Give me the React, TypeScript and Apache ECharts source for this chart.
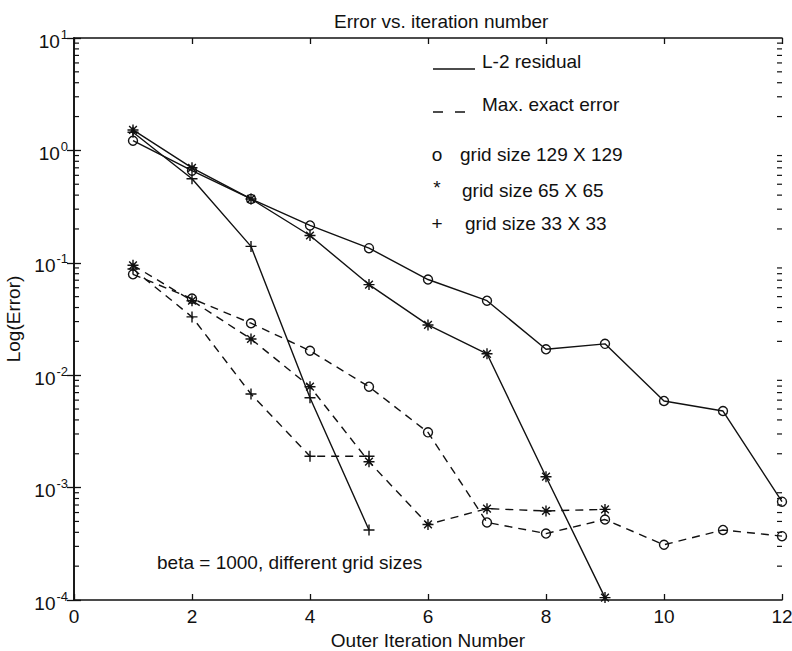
import React, { useEffect, useRef } from "react";
import * as echarts from "echarts";

// ---- data ----
const iterations = [1, 2, 3, 4, 5, 6, 7, 8, 9, 10, 11, 12];

const residual129 = [1.22, 0.66, 0.37, 0.215, 0.135, 0.071, 0.046, 0.017, 0.019, 0.0059, 0.0048, 0.00075];
const residual65 = [1.52, 0.7, 0.37, 0.175, 0.064, 0.028, 0.0155, 0.00125, 0.000105];
const residual33 = [1.45, 0.56, 0.14, 0.0063, 0.00042];

const exact129 = [0.079, 0.048, 0.029, 0.0165, 0.0079, 0.0031, 0.00049, 0.00039, 0.00052, 0.00031, 0.00042, 0.00037];
const exact65 = [0.095, 0.046, 0.021, 0.0079, 0.0017, 0.00047, 0.00065, 0.00062, 0.00064];
const exact33 = [0.088, 0.033, 0.0068, 0.0019, 0.0019];

const xTicks = [0, 2, 4, 6, 8, 10, 12];
const yDecades = [1e-4, 1e-3, 1e-2, 1e-1, 1, 10];

const titleText = "Error vs. iteration number";
const xName = "Outer Iteration Number";
const yName = "Log(Error)";
const legendLines = ["L-2 residual", "Max. exact error"];
const legendMarkers = ["o", "*", "+"];
const legendGrids = ["grid size 129 X 129", "grid size 65 X 65", "grid size 33 X 33"];
const noteText = "beta = 1000, different grid sizes";

// minor tick positions of the log axis (2..9 x 10^k)
const minorTicks: number[] = [];
for (let e = -4; e < 1; e++) for (let m = 2; m <= 9; m++) minorTicks.push(m * Math.pow(10, e));

const FONT = "Liberation Sans";
const INK = "#111";
const FS = 19;

const ASTERISK = "path://M5,0L5,10M0,5L10,5M1.5,1.5L8.5,8.5M1.5,8.5L8.5,1.5";
const PLUS = "path://M5,0L5,10M0,5L10,5";

function pairs(vals: number[]) {
  return vals.map((v, i) => [iterations[i], v]);
}

function mkSeries(name: string, vals: number[], symbol: string, dashed: boolean, size: number) {
  return {
    name,
    type: "line",
    data: pairs(vals),
    symbol,
    symbolSize: size,
    symbolKeepAspect: true,
    showSymbol: true,
    lineStyle: { color: INK, width: 1.4, type: dashed ? [8, 6] : "solid" },
    itemStyle: { color: "none", borderColor: INK, borderWidth: 1.4 },
    emphasis: { disabled: true },
    z: 3,
  };
}

const minorTickSeries = {
  type: "custom",
  silent: true,
  clip: false,
  data: minorTicks.map((v) => [6, v]),
  renderItem: (params: any, api: any) => {
    const y = api.coord([6, api.value(1)])[1];
    const cs = params.coordSys;
    const L = cs.x;
    const R = cs.x + cs.width;
    return {
      type: "group",
      children: [
        { type: "rect", shape: { x: L, y: y - 0.6, width: 5, height: 1.2 }, style: { fill: INK } },
        { type: "rect", shape: { x: R - 5, y: y - 0.6, width: 5, height: 1.2 }, style: { fill: INK } },
      ],
    };
  },
  z: 5,
};

export default function App() {
  const ref = useRef<HTMLDivElement>(null);
  useEffect(() => {
    if (!ref.current) return;
    const chart = echarts.init(ref.current, undefined, { renderer: "svg" });
    const txt = (x: number, y: number, text: string, align = "left") => ({
      type: "text",
      x,
      y,
      style: { text, font: `${FS}px "${FONT}"`, fill: INK, textAlign: align, textVerticalAlign: "middle" },
    });

    const option: any = {
      animation: false,
      backgroundColor: "#fff",
      textStyle: { fontFamily: FONT, color: INK },
      title: {
        text: titleText,
        left: 329,
        top: 7,
        textStyle: { fontFamily: FONT, fontSize: FS, fontWeight: "normal", color: INK },
      },
      grid: { left: 74, right: 10, top: 38, bottom: 51, outerBoundsMode: "none", containLabel: false },
      xAxis: [
        {
          type: "value",
          min: 0,
          max: 12,
          interval: 2,
          name: xName,
          nameLocation: "middle",
          nameGap: 28,
          nameTextStyle: { fontFamily: FONT, fontSize: FS, color: INK },
          axisLine: { show: true, lineStyle: { color: INK, width: 1.6 } },
          axisTick: { show: true, inside: true, length: 6, lineStyle: { color: INK, width: 1.3 } },
          axisLabel: {
            fontFamily: FONT,
            fontSize: FS,
            color: INK,
            margin: 7,
            formatter: (v: number) => (xTicks.indexOf(v) >= 0 ? String(v) : ""),
          },
          splitLine: { show: false },
        },
        {
          type: "value",
          position: "top",
          min: 0,
          max: 12,
          interval: 2,
          axisLine: { show: true, lineStyle: { color: INK, width: 1.6 } },
          axisTick: { show: true, inside: true, length: 6, lineStyle: { color: INK, width: 1.3 } },
          axisLabel: { show: false },
          splitLine: { show: false },
        },
      ],
      yAxis: [
        {
          type: "log",
          logBase: 10,
          min: 1e-4,
          max: 10,
          name: yName,
          nameLocation: "middle",
          nameGap: 44,
          nameRotate: 90,
          nameTextStyle: { fontFamily: FONT, fontSize: FS, color: INK },
          axisLine: { show: true, lineStyle: { color: INK, width: 1.6 } },
          axisTick: { show: true, inside: true, length: 7, lineStyle: { color: INK, width: 1.3 } },
          axisLabel: {
            margin: 6,
            formatter: (v: number) => {
              const near = yDecades.find((d) => Math.abs(Math.log10(d) - Math.log10(v)) < 1e-6);
              if (near === undefined) return "";
              const e = Math.round(Math.log10(v));
              return "{b|10}{s|" + String(e) + "}";
            },
            rich: {
              b: { fontFamily: FONT, fontSize: FS, color: INK, padding: [6, 0, 0, 0] },
              s: { fontFamily: FONT, fontSize: 13, color: INK, padding: [0, 0, 8, 1] },
            },
          },
          splitLine: { show: false },
        },
        {
          type: "log",
          logBase: 10,
          min: 1e-4,
          max: 10,
          position: "right",
          axisLine: { show: true, lineStyle: { color: INK, width: 1.6 } },
          axisTick: { show: true, inside: true, length: 7, lineStyle: { color: INK, width: 1.3 } },
          axisLabel: { show: false },
          splitLine: { show: false },
        },
      ],
      series: [
        minorTickSeries,
        mkSeries("L-2 residual, 129 X 129", residual129, "circle", false, 9),
        mkSeries("L-2 residual, 65 X 65", residual65, ASTERISK, false, 11),
        mkSeries("L-2 residual, 33 X 33", residual33, PLUS, false, 11),
        mkSeries("Max. exact error, 129 X 129", exact129, "circle", true, 9),
        mkSeries("Max. exact error, 65 X 65", exact65, ASTERISK, true, 11),
        mkSeries("Max. exact error, 33 X 33", exact33, PLUS, true, 11),
      ],
      graphic: [
        { type: "line", shape: { x1: 433, y1: 69, x2: 475, y2: 69 }, style: { stroke: INK, lineWidth: 1.5 } },
        txt(482, 61, legendLines[0]),
        { type: "line", shape: { x1: 433, y1: 112, x2: 443, y2: 112 }, style: { stroke: INK, lineWidth: 1.5 } },
        { type: "line", shape: { x1: 455, y1: 112, x2: 465, y2: 112 }, style: { stroke: INK, lineWidth: 1.5 } },
        txt(482, 104, legendLines[1]),
        txt(437, 154, legendMarkers[0], "center"),
        txt(460, 154, legendGrids[0]),
        txt(437, 187, legendMarkers[1], "center"),
        txt(462, 190, legendGrids[1]),
        txt(437, 223, legendMarkers[2], "center"),
        txt(465, 223, legendGrids[2]),
        txt(157, 562, noteText),
      ],
    };
    chart.setOption(option);
    return () => chart.dispose();
  }, []);
  return (
    <div
      ref={ref}
      style={{ position: "fixed", left: 0, top: 0, width: 792, height: 651, background: "#fff" }}
    />
  );
}
